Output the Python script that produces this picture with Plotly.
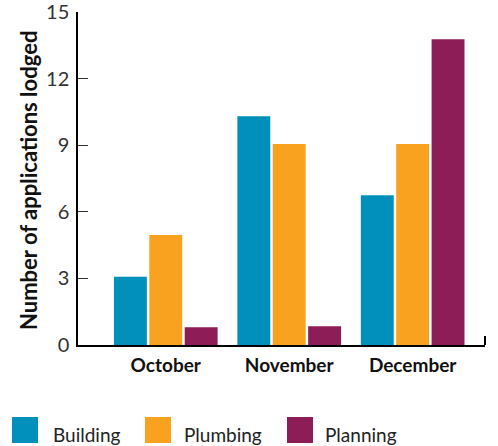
import plotly.graph_objects as go

# Monthly counts of applications lodged, by type
months = ["October", "November", "December"]
building = [3.07, 10.3, 6.75]
plumbing = [4.95, 9.05, 9.05]
planning = [0.8, 0.85, 13.77]
series_names = ["Building", "Plumbing", "Planning"]
series_colors = ["#0090BB", "#F8A21F", "#8D1D56"]
y_ticks = [0, 3, 6, 9, 12, 15]

W, H = 498, 446
M_L, M_R, M_T, M_B = 78, 13, 12, 101
PW, PH = W - M_L - M_R, H - M_T - M_B


def px_x(px):
    return (px - M_L) / PW


def px_y(py):
    return (H - M_B - py) / PH


FONT = "Lato"

fig = go.Figure()
for name, vals, col in zip(series_names, [building, plumbing, planning], series_colors):
    fig.add_trace(go.Bar(x=months, y=vals, name=name, marker=dict(color=col, line=dict(width=0)),
                         showlegend=False))

fig.update_layout(
    width=W, height=H,
    margin=dict(l=M_L, r=M_R, t=M_T, b=M_B),
    paper_bgcolor="white", plot_bgcolor="white",
    barmode="group", bargap=0.14, bargroupgap=0.07,
    font=dict(family=FONT, color="#222"),
)

fig.update_xaxes(
    range=[-0.711, 2.586], showline=True, linecolor="black", linewidth=2,
    ticks="", showgrid=False, zeroline=False, automargin=False,
    tickfont=dict(family=FONT, size=19, color="#111", weight="bold"),
    ticklabelstandoff=2,
)
fig.update_yaxes(
    range=[0, 15], tickvals=y_ticks, showline=True, linecolor="black", linewidth=1.5,
    ticks="inside", ticklen=10, tickcolor="#333", tickwidth=1.2,
    showgrid=False, zeroline=False, automargin=False,
    tickfont=dict(family=FONT, size=20, color="#333"),
    ticklabelstandoff=3, ticklabeloverflow="allow",
)

# end tick at the right end of the x axis
fig.add_shape(type="line", xref="paper", yref="paper", x0=1, x1=1, y0=0, y1=px_y(336),
              line=dict(color="black", width=2))

# y-axis title
fig.add_annotation(text="<b>Number of applications lodged</b>", xref="paper", yref="paper",
                   x=px_x(28), y=px_y(181), textangle=-90, showarrow=False,
                   xanchor="center", yanchor="middle",
                   font=dict(family=FONT, size=22, color="#111"))

# legend: coloured squares with labels beside them
sq_left = [12, 145, 287]
txt_left = [51, 182, 323]
for name, col, sx, tx in zip(series_names, series_colors, sq_left, txt_left):
    fig.add_shape(type="rect", xref="paper", yref="paper",
                  x0=px_x(sx), x1=px_x(sx + 26), y0=px_y(443), y1=px_y(417),
                  fillcolor=col, line=dict(width=0))
    fig.add_annotation(text=name, xref="paper", yref="paper", x=px_x(tx), y=px_y(435),
                       xanchor="left", yanchor="middle", showarrow=False,
                       font=dict(family=FONT, size=19, color="#222"))

fig.write_html("out.html")
